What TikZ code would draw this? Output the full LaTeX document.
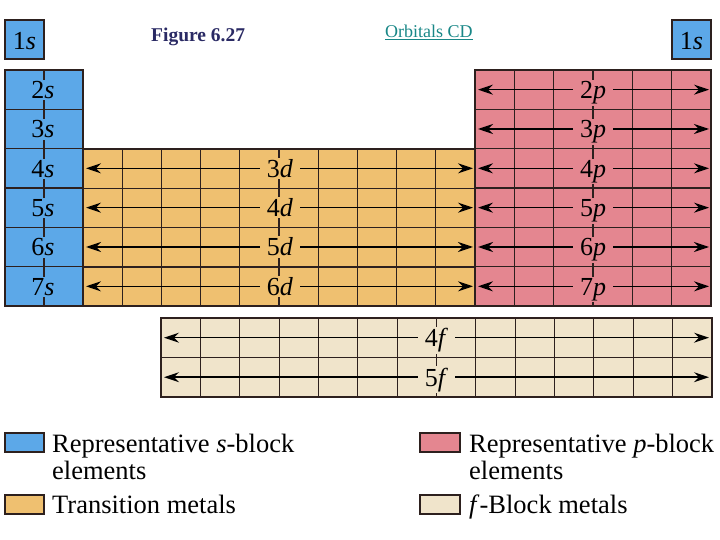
\documentclass[tikz,border=0pt]{standalone}
\usepackage{fontspec}
\setmainfont{Liberation Serif}
\usetikzlibrary{arrows.meta}
\definecolor{sblue}{RGB}{92,168,232}
\definecolor{dorange}{RGB}{239,192,112}
\definecolor{ppink}{RGB}{228,134,144}
\definecolor{fbeige}{RGB}{240,228,203}
\definecolor{gridc}{RGB}{45,32,30}
\definecolor{navyc}{RGB}{42,42,100}
\definecolor{tealc}{RGB}{25,135,135}
\begin{document}
\begin{tikzpicture}[x=1pt,y=-1pt,
  gridline/.style={draw=gridc,line width=1.1pt},
  border/.style={draw=gridc,line width=2pt},
  orb/.style={font=\fontsize{26}{26}\selectfont, inner xsep=7pt, inner ysep=1.5pt, anchor=base},
  dblarrow/.style={{Stealth[length=15pt,width=10pt,inset=5pt]}-{Stealth[length=15pt,width=10pt,inset=5pt]}, line width=1.5pt, draw=black},
  legtext/.style={font=\fontsize{26.5}{27}\selectfont, anchor=base west, inner sep=0pt},
  legbox/.style={draw=gridc, line width=1.5pt}]
\useasboundingbox (0,0) rectangle (720,540);
\def\rh{39.333}
% ---- 1s boxes
\node[draw=gridc, line width=2pt, fill=sblue, minimum width=39pt, minimum height=39pt, inner sep=0pt] (oneL) at (24.5,40) {};
\node[orb, inner xsep=0pt] (l1sL) at (24.5,49.5) {1\textit{s}};
\node[draw=gridc, line width=2pt, fill=sblue, minimum width=39pt, minimum height=39pt, inner sep=0pt] (oneR) at (691.5,40) {};
\node[orb, inner xsep=0pt] (l1sR) at (691.5,49.5) {1\textit{s}};
% ---- titles
\node[anchor=base west, inner sep=0pt, text=navyc, font=\fontsize{19.5}{20}\selectfont\bfseries] (fig) at (151,42) {Figure 6.27};
\node[anchor=base west, inner sep=0pt, text=tealc, font=\fontsize{18}{18}\selectfont] (orbcd) at (385,38) {\underline{Orbitals CD}};
% ---- fills
\fill[sblue] (5,70) rectangle (83,306);
\fill[dorange] (83,149) rectangle (475,306);
\fill[ppink] (475,70) rectangle (711,306);
\fill[fbeige] (161,318) rectangle (712,397);
% ---- grid lines
\foreach \k in {1,...,5} \draw[gridline] (5,70+\k*\rh) -- (83,70+\k*\rh);
\draw[gridline] (44,70) -- (44,306);
\foreach \k in {1,...,3} \draw[gridline] (83,149+\k*\rh) -- (475,149+\k*\rh);
\foreach \k in {1,...,9} \draw[gridline] (83+\k*39.2,149) -- (83+\k*39.2,306);
\foreach \k in {1,...,5} \draw[gridline] (475,70+\k*\rh) -- (711,70+\k*\rh);
\foreach \k in {1,...,5} \draw[gridline] (475+\k*39.333,70) -- (475+\k*39.333,306);
\draw[gridline] (161,357.5) -- (712,357.5);
\foreach \k in {1,...,13} \draw[gridline] (161+\k*39.357,318) -- (161+\k*39.357,397);
% ---- arrow end points
\foreach \n [count=\r from 0] in {2,...,7} {
  \coordinate (pL\n) at (478,70+\r*\rh+0.5*\rh);
  \coordinate (pR\n) at (709,70+\r*\rh+0.5*\rh);
}
\foreach \n [count=\r from 2] in {3,...,6} {
  \coordinate (dL\n) at (86,70+\r*\rh+0.5*\rh);
  \coordinate (dR\n) at (473,70+\r*\rh+0.5*\rh);
}
\coordinate (fL4) at (164,337.7);
\coordinate (fR4) at (709,337.7);
\coordinate (fL5) at (164,377.2);
\coordinate (fR5) at (709,377.2);
% ---- arrows
\foreach \n in {2,...,7} \draw[dblarrow] (pL\n) -- (pR\n);
\foreach \n in {3,...,6} \draw[dblarrow] (dL\n) -- (dR\n);
\draw[dblarrow] (fL4) -- (fR4);
\draw[dblarrow] (fL5) -- (fR5);
% ---- labels
\foreach \n [count=\r from 0] in {2,...,7} {
  \node[orb, fill=sblue] (ls\n) at (43,70+\r*\rh+0.5*\rh+9) {\n\textit{s}};
  \node[orb, fill=ppink] (lp\n) at (593,70+\r*\rh+0.5*\rh+9) {\n\textit{p}};
}
\foreach \n [count=\r from 2] in {3,...,6}
  \node[orb, fill=dorange] (ld\n) at (280,70+\r*\rh+0.5*\rh+9) {\n\textit{d}};
\node[orb, fill=fbeige] (lf4) at (436.5,337.7+9) {4\textit{f}};
\node[orb, fill=fbeige] (lf5) at (436.5,377.2+9) {5\textit{f}};
% ---- borders
\draw[border] (5,70) rectangle (83,306);
\draw[border] (83,149) rectangle (475,306);
\draw[border] (475,70) rectangle (711,306);
\draw[border] (161,318) rectangle (712,397);
% ---- legend
\draw[legbox, fill=sblue] (5,433) rectangle (44,452);
\node[legtext] (legs1) at (52,452) {Representative \textit{s}-block};
\node[legtext] (legs2) at (52,479) {elements};
\draw[legbox, fill=dorange] (5,495) rectangle (44,514);
\node[legtext] (legd) at (52,513) {Transition metals};
\draw[legbox, fill=ppink] (420,433) rectangle (460,452);
\node[legtext] (legp1) at (469,452) {Representative \textit{p}-block};
\node[legtext] (legp2) at (469,479) {elements};
\draw[legbox, fill=fbeige] (420,495) rectangle (460,514);
\node[legtext] (legf) at (469,513) {\textit{f}-Block metals};
\end{tikzpicture}
\end{document}
